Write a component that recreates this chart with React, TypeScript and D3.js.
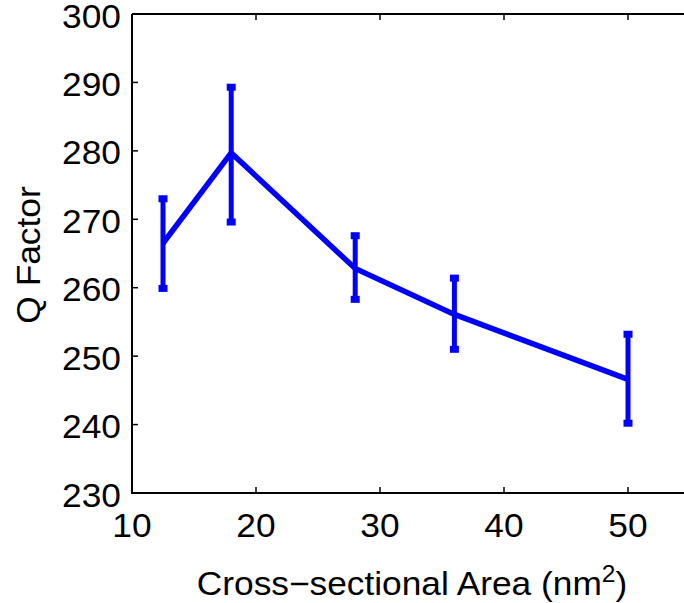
import React from "react";
import * as d3 from "d3";

const areas = [12.5, 18, 28, 36, 50];
const qFactor = [266.5, 279.7, 262.8, 256.1, 246.6];
const qUpper = [273.0, 289.3, 267.6, 261.4, 253.2];
const qLower = [259.9, 269.6, 258.3, 251.0, 240.2];
const xTicks = [10, 20, 30, 40, 50];
const yTicks = [230, 240, 250, 260, 270, 280, 290, 300];

const W = 684;
const H = 603;
const left = 132;
const right = 690;
const top = 14;
const bottom = 493;
const font = "'Liberation Sans', Arial, Helvetica, sans-serif";
const blue = "#0000ff";
const fs = 33;
const sx = 1.07;

export default function App() {
  const x = d3.scaleLinear().domain([10, 55]).range([left, right]);
  const y = d3.scaleLinear().domain([230, 300]).range([bottom, top]);
  const line = d3
    .line<number>()
    .x((_, i) => x(areas[i]))
    .y((d) => y(d));
  const tickLen = 6;
  return (
    <svg
      width={W}
      height={H}
      style={{ position: "absolute", left: 0, top: 0, background: "#fff" }}
      fontFamily={font}
    >
      <rect x={0} y={0} width={W} height={H} fill="#fff" />
      <path
        d={`M${left},${top}H${right}M${left},${top}V${bottom}H${right}M${right},${top}V${bottom}`}
        stroke="#000"
        strokeWidth={2}
        fill="none"
      />
      {xTicks.map((t) => (
        <g key={"xt" + t}>
          <line x1={x(t)} x2={x(t)} y1={bottom} y2={bottom - tickLen} stroke="#000" strokeWidth={1.5} />
          <line x1={x(t)} x2={x(t)} y1={top} y2={top + tickLen} stroke="#000" strokeWidth={1.5} />
          <g transform={`translate(${x(t)},537) scale(${sx},1)`}>
            <text x={0} y={0} textAnchor="middle" fontSize={fs} fill="#000">
              {t}
            </text>
          </g>
        </g>
      ))}
      {yTicks.map((t) => (
        <g key={"yt" + t}>
          <line x1={left} x2={left + tickLen} y1={y(t)} y2={y(t)} stroke="#000" strokeWidth={1.5} />
          <line x1={right} x2={right - tickLen} y1={y(t)} y2={y(t)} stroke="#000" strokeWidth={1.5} />
          <g transform={`translate(121,${y(t) + 13.5}) scale(${sx},1)`}>
            <text x={0} y={0} textAnchor="end" fontSize={fs} fill="#000">
              {t}
            </text>
          </g>
        </g>
      ))}
      <path d={line(qFactor) || ""} stroke={blue} strokeWidth={5.5} fill="none" strokeLinejoin="miter" />
      {areas.map((a, i) => (
        <g key={"eb" + i}>
          <line x1={x(a)} x2={x(a)} y1={y(qLower[i])} y2={y(qUpper[i])} stroke={blue} strokeWidth={5} />
          <rect x={x(a) - 4.5} y={y(qUpper[i]) - 3.5} width={9} height={7} fill={blue} />
          <rect x={x(a) - 4.5} y={y(qLower[i]) - 3.5} width={9} height={7} fill={blue} />
        </g>
      ))}
      <g transform={`translate(412,595) scale(${sx},1)`}>
        <text x={0} y={0} textAnchor="middle" fontSize={fs} fill="#000">
          Cross−sectional Area (nm
          <tspan dy={-13} fontSize={23}>2</tspan>
          <tspan dy={13}>)</tspan>
        </text>
      </g>
      <g transform={`translate(40,255) rotate(-90) scale(${sx},1)`}>
        <text x={0} y={0} textAnchor="middle" fontSize={fs} fill="#000">
          Q Factor
        </text>
      </g>
    </svg>
  );
}
